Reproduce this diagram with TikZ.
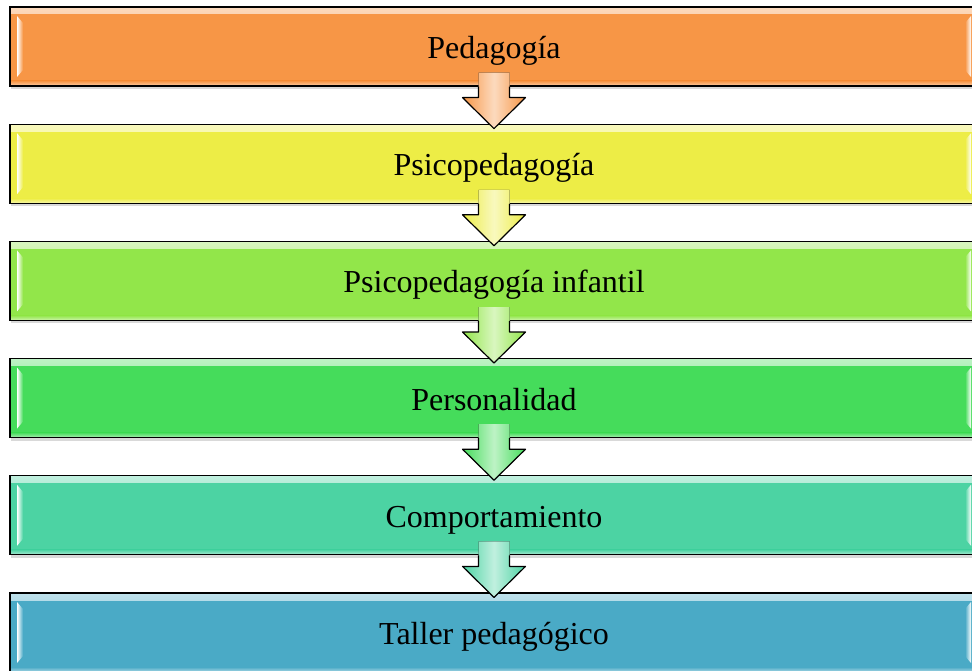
\documentclass[tikz,border=0pt]{standalone}
\usepackage{fontspec}
\setmainfont{Liberation Serif}
\usetikzlibrary{positioning,calc,shadows}
\definecolor{cOrange}{HTML}{F79646}
\definecolor{cYellow}{HTML}{EDED46}
\definecolor{cLime}{HTML}{92E64A}
\definecolor{cGreen}{HTML}{45DC5B}
\definecolor{cTeal}{HTML}{4CD3A3}
\definecolor{cBlue}{HTML}{4AAAC6}
\tikzset{%
  stage/.style={draw=black, line width=1.2pt, fill=#1, inner sep=0pt,
    minimum width=968pt, minimum height=79pt,
    font=\fontsize{32}{36}\selectfont, text height=24pt, text depth=0pt,
    drop shadow={shadow xshift=1pt, shadow yshift=-3pt, opacity=.3},
    path picture={
      % glossy top and bottom edges
      \shade[top color=#1!35!white, bottom color=#1]
        (path picture bounding box.north west) rectangle
        ([yshift=-7pt]path picture bounding box.north east);
      \shade[bottom color=#1!45!white, top color=#1]
        (path picture bounding box.south west) rectangle
        ([yshift=5pt]path picture bounding box.south east);
      % bevel stripes at the ends
      \shade[left color=white, right color=#1]
        ([shift={(7pt,-9pt)}]path picture bounding box.north west) -- ++(6pt,-7pt)
        -- ([shift={(13pt,16pt)}]path picture bounding box.south west) -- ++(-6pt,-7pt) -- cycle;
      \shade[right color=white, left color=#1]
        ([shift={(-7pt,-9pt)}]path picture bounding box.north east) -- ++(-6pt,-7pt)
        -- ([shift={(-13pt,16pt)}]path picture bounding box.south east) -- ++(6pt,-7pt) -- cycle;
    }},
  flow/.style={left color=#1, right color=#1, middle color=#1!35!white},
  flowline/.style={draw=black, line width=1.2pt, line join=round}
}
\begin{document}
\begin{tikzpicture}
  \path[use as bounding box] (0,0) rectangle (972pt,-671pt);
  \clip (0,0) rectangle (972pt,-671pt);
  \node[stage=cOrange] (b1) at (494pt,-46.5pt) {Pedagogía};
  \node[stage=cYellow, below=37pt of b1] (b2) {Psicopedagogía};
  \node[stage=cLime, below=37pt of b2] (b3) {Psicopedagogía infantil};
  \node[stage=cGreen, below=37pt of b3] (b4) {Personalidad};
  \node[stage=cTeal, below=37pt of b4] (b5) {Comportamiento};
  \node[stage=cBlue, below=37pt of b5] (b6) {Taller pedagógico};
  % block arrows between the stages
  \foreach \u/\l/\c in {b1/b2/cOrange, b2/b3/cYellow, b3/b4/cLime, b4/b5/cGreen, b5/b6/cTeal}{
    \fill[flow=\c] ([shift={(-15.5pt,14pt)}]\u.south) -- ([shift={(-15.5pt,-11pt)}]\u.south)
      -- ++(-16pt,0) -- ([yshift=-5pt]\l.north) -- ([shift={(31.5pt,-11pt)}]\u.south)
      -- ++(-16pt,0) -- ([shift={(15.5pt,14pt)}]\u.south) -- cycle;
    \draw[flowline] ([xshift=-15.5pt]\u.south) -- ++(0,-11pt) -- ++(-16pt,0)
      -- ([yshift=-5pt]\l.north) -- ([shift={(31.5pt,-11pt)}]\u.south)
      -- ++(-16pt,0) -- ([xshift=15.5pt]\u.south);
  }
\end{tikzpicture}
\end{document}
